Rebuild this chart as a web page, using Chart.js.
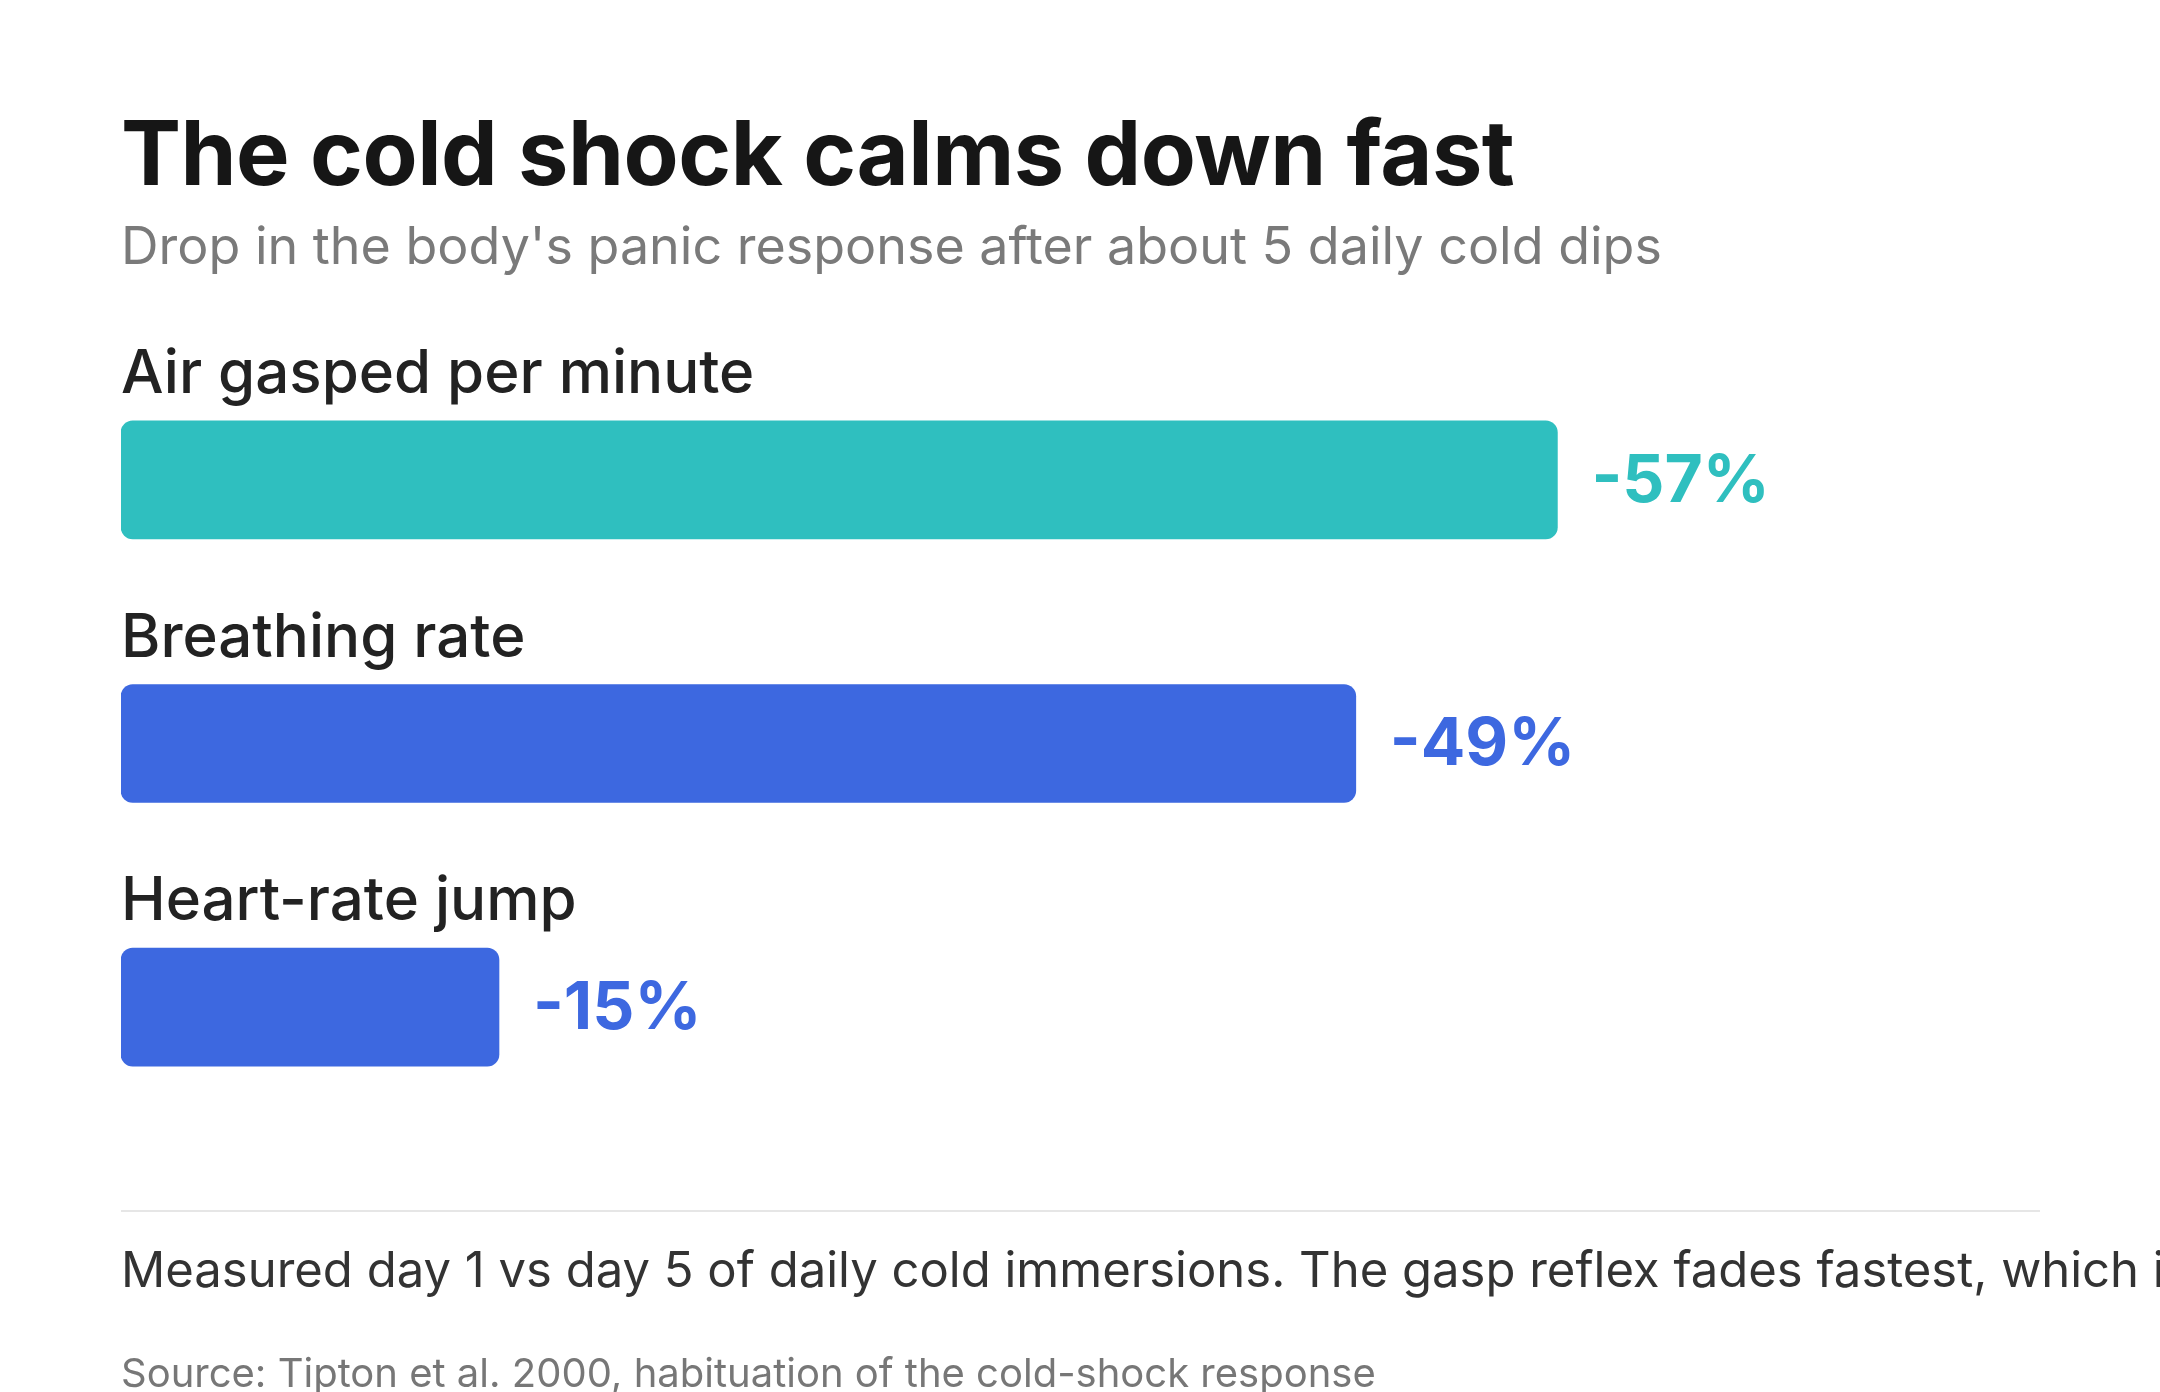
<!DOCTYPE html>
<html><head><meta charset="utf-8">
<script src="https://cdn.jsdelivr.net/npm/chart.js@4"></script>
<style>
html,body{margin:0;padding:0;width:2160px;height:1392px;overflow:hidden;background:#fff;font-family:Inter,sans-serif;}
#t{position:absolute;left:121px;top:98px;font-size:90px;font-weight:700;color:#161616;white-space:nowrap;letter-spacing:-0.5px}
#s{position:absolute;left:121px;top:214px;font-size:52px;color:#7a7a7a;white-space:nowrap}
#hr{position:absolute;left:121px;top:1210px;width:1919px;height:2px;background:#e6e6e6}
#n{position:absolute;left:121px;top:1240px;font-size:49px;color:#333;white-space:nowrap}
#src{position:absolute;left:121px;top:1348px;font-size:40px;color:#777;white-space:nowrap}
#c{position:absolute;left:0;top:0}
</style></head><body>
<div id="t">The cold shock calms down fast</div>
<div id="s">Drop in the body's panic response after about 5 daily cold dips</div>
<div style="position:absolute;left:0;top:0;width:2160px;height:1392px"><canvas id="c"></canvas></div>
<div id="hr"></div>
<div id="n">Measured day 1 vs day 5 of daily cold immersions. The gasp reflex fades fastest, which is what makes the first plunge so risky.</div>
<div id="src">Source: Tipton et al. 2000, habituation of the cold-shock response</div>
<script>
const categories = ["Air gasped per minute","Breathing rate","Heart-rate jump"];
const values = [57,49,15];
const valueLabels = ["-57%","-49%","-15%"];
const colors = ["#2fbfbf","#3d68e0","#3d68e0"];
const labelPlugin={id:'lbl',afterDatasetsDraw(ch){
  const ctx=ch.ctx;const meta=ch.getDatasetMeta(0);
  meta.data.forEach((b,i)=>{
    const top=b.y-b.height/2;
    ctx.save();
    ctx.font='500 60px Inter, sans-serif';ctx.fillStyle='#222';ctx.textBaseline='alphabetic';ctx.textAlign='left';
    ctx.fillText(categories[i],ch.chartArea.left,top-28);
    ctx.font='700 66px Inter, sans-serif';ctx.fillStyle=colors[i];ctx.textBaseline='middle';
    ctx.fillText(valueLabels[i],b.x+34,b.y+2);
    ctx.restore();
  });
}};
new Chart(document.getElementById('c'),{
  type:'bar',
  data:{labels:categories,datasets:[{data:values,backgroundColor:colors,barThickness:118,borderRadius:12,borderSkipped:false}]},
  options:{indexAxis:'y',responsive:true,maintainAspectRatio:false,animation:false,
    layout:{padding:{left:121,right:23,top:348,bottom:253}},
    plugins:{legend:{display:false},tooltip:{enabled:false}},
    scales:{x:{display:false,min:0,max:80},y:{display:false}}},
  plugins:[labelPlugin]
});
</script>
</body></html>
